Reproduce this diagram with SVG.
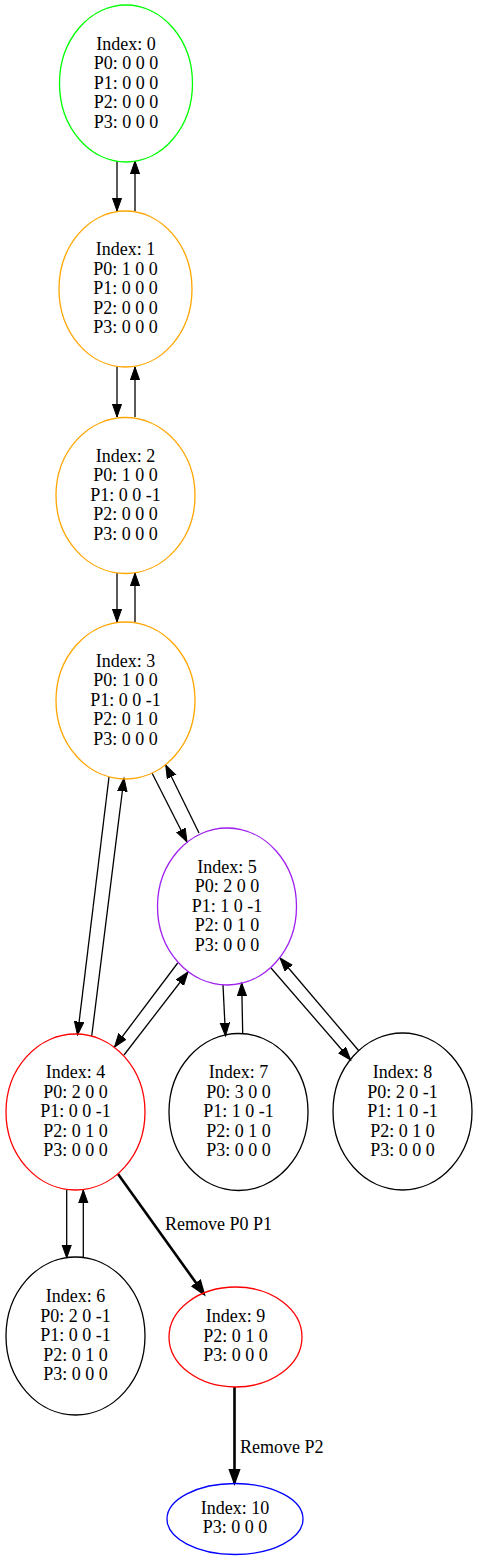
<svg xmlns="http://www.w3.org/2000/svg" width="478" height="1561" viewBox="0 0 478 1561">
<style>
  .bg{fill:#ffffff}
  ellipse{fill:none;stroke-width:1.3}
  text{font-family:"Liberation Serif","Times New Roman",serif;font-size:18px;fill:#000;text-anchor:middle}
  .lbl{text-anchor:start}
  .e{stroke:#000;stroke-width:1.3;fill:none;marker-end:url(#ah)}
  .b{stroke:#000;stroke-width:2.6;fill:none;marker-end:url(#ahb)}
</style>
<defs>
  <marker id="ah" markerUnits="userSpaceOnUse" markerWidth="16" markerHeight="12" refX="13.3" refY="5" orient="auto">
    <path d="M0,0.3 L13.3,5 L0,9.7 z" fill="#000" stroke="#000" stroke-width="1"/>
  </marker>
  <marker id="ahb" markerUnits="userSpaceOnUse" markerWidth="18" markerHeight="14" refX="14" refY="6" orient="auto">
    <path d="M1,1.3 L14,6 L1,10.7 z" fill="#000" stroke="#000" stroke-width="2"/>
  </marker>
</defs>
<rect class="bg" x="0" y="0" width="478" height="1561"/>
<g id="connectors">
  <line class="e" x1="117" y1="161" x2="117" y2="211"/>
  <line class="e" x1="135" y1="211" x2="135" y2="161"/>
  <line class="e" x1="117" y1="367" x2="117" y2="417"/>
  <line class="e" x1="135" y1="417" x2="135" y2="367"/>
  <line class="e" x1="117" y1="573" x2="117" y2="622"/>
  <line class="e" x1="135" y1="622" x2="135" y2="573"/>
  <line class="e" x1="109" y1="777" x2="77.5" y2="1035"/>
  <line class="e" x1="91.7" y1="1036" x2="124" y2="778"/>
  <line class="e" x1="152" y1="773" x2="187" y2="842"/>
  <line class="e" x1="199" y1="833" x2="165.7" y2="765"/>
  <line class="e" x1="177.7" y1="963" x2="114.5" y2="1047"/>
  <line class="e" x1="124" y1="1055" x2="188" y2="972"/>
  <line class="e" x1="223" y1="985" x2="225.5" y2="1036"/>
  <line class="e" x1="242.7" y1="1033" x2="241.7" y2="983"/>
  <line class="e" x1="271" y1="968" x2="350.7" y2="1060"/>
  <line class="e" x1="359" y1="1051" x2="280" y2="958"/>
  <line class="e" x1="66.7" y1="1190" x2="66.7" y2="1258"/>
  <line class="e" x1="83.3" y1="1258" x2="83.3" y2="1190"/>
  <line class="b" x1="118" y1="1174" x2="204" y2="1294"/>
  <line class="b" x1="234.5" y1="1387" x2="234.5" y2="1483"/>
  <text class="lbl" x="165" y="1230">Remove P0 P1</text>
  <text class="lbl" x="240" y="1453">Remove P2</text>
</g>
<g id="node0">
  <ellipse cx="126" cy="83.5" rx="66.5" ry="78.5" stroke="#00ff00"/>
  <text x="126" y="49.5">Index: 0</text>
  <text x="126" y="69">P0: 0 0 0</text>
  <text x="126" y="88.5">P1: 0 0 0</text>
  <text x="126" y="108">P2: 0 0 0</text>
  <text x="126" y="127.5">P3: 0 0 0</text>
</g>
<g id="node1">
  <ellipse cx="125.5" cy="289" rx="66.5" ry="78" stroke="#ffa500"/>
  <text x="125.5" y="255">Index: 1</text>
  <text x="125.5" y="274.5">P0: 1 0 0</text>
  <text x="125.5" y="294">P1: 0 0 0</text>
  <text x="125.5" y="313.5">P2: 0 0 0</text>
  <text x="125.5" y="333">P3: 0 0 0</text>
</g>
<g id="node2">
  <ellipse cx="125.5" cy="495.5" rx="69.5" ry="78" stroke="#ffa500"/>
  <text x="125.5" y="461.5">Index: 2</text>
  <text x="125.5" y="481">P0: 1 0 0</text>
  <text x="125.5" y="500.5">P1: 0 0 -1</text>
  <text x="125.5" y="520">P2: 0 0 0</text>
  <text x="125.5" y="539.5">P3: 0 0 0</text>
</g>
<g id="node3">
  <ellipse cx="125.5" cy="700.5" rx="69.5" ry="78.5" stroke="#ffa500"/>
  <text x="125.5" y="666.5">Index: 3</text>
  <text x="125.5" y="686">P0: 1 0 0</text>
  <text x="125.5" y="705.5">P1: 0 0 -1</text>
  <text x="125.5" y="725">P2: 0 1 0</text>
  <text x="125.5" y="744.5">P3: 0 0 0</text>
</g>
<g id="node5">
  <ellipse cx="227" cy="906.5" rx="69.5" ry="78.5" stroke="#a020f0"/>
  <text x="227" y="872.5">Index: 5</text>
  <text x="227" y="892">P0: 2 0 0</text>
  <text x="227" y="911.5">P1: 1 0 -1</text>
  <text x="227" y="931">P2: 0 1 0</text>
  <text x="227" y="950.5">P3: 0 0 0</text>
</g>
<g id="node4">
  <ellipse cx="75.5" cy="1112" rx="69.5" ry="78" stroke="#ff0000"/>
  <text x="75.5" y="1078">Index: 4</text>
  <text x="75.5" y="1097.5">P0: 2 0 0</text>
  <text x="75.5" y="1117">P1: 0 0 -1</text>
  <text x="75.5" y="1136.5">P2: 0 1 0</text>
  <text x="75.5" y="1156">P3: 0 0 0</text>
</g>
<g id="node7">
  <ellipse cx="238.5" cy="1112" rx="69.5" ry="78.5" stroke="#000"/>
  <text x="238.5" y="1078">Index: 7</text>
  <text x="238.5" y="1097.5">P0: 3 0 0</text>
  <text x="238.5" y="1117">P1: 1 0 -1</text>
  <text x="238.5" y="1136.5">P2: 0 1 0</text>
  <text x="238.5" y="1156">P3: 0 0 0</text>
</g>
<g id="node8">
  <ellipse cx="402.5" cy="1111.5" rx="69.5" ry="78.5" stroke="#000"/>
  <text x="402.5" y="1078">Index: 8</text>
  <text x="402.5" y="1097.5">P0: 2 0 -1</text>
  <text x="402.5" y="1117">P1: 1 0 -1</text>
  <text x="402.5" y="1136.5">P2: 0 1 0</text>
  <text x="402.5" y="1156">P3: 0 0 0</text>
</g>
<g id="node6">
  <ellipse cx="75.5" cy="1336" rx="69.5" ry="79" stroke="#000"/>
  <text x="75.5" y="1302">Index: 6</text>
  <text x="75.5" y="1321.5">P0: 2 0 -1</text>
  <text x="75.5" y="1341">P1: 0 0 -1</text>
  <text x="75.5" y="1360.5">P2: 0 1 0</text>
  <text x="75.5" y="1380">P3: 0 0 0</text>
</g>
<g id="node9">
  <ellipse cx="235.5" cy="1337" rx="66.5" ry="50" stroke="#ff0000"/>
  <text x="235.5" y="1322">Index: 9</text>
  <text x="235.5" y="1341.5">P2: 0 1 0</text>
  <text x="235.5" y="1361">P3: 0 0 0</text>
</g>
<g id="node10">
  <ellipse cx="235" cy="1519" rx="68" ry="35.5" stroke="#0000ff"/>
  <text x="235" y="1513.5">Index: 10</text>
  <text x="235" y="1533">P3: 0 0 0</text>
</g>
</svg>
